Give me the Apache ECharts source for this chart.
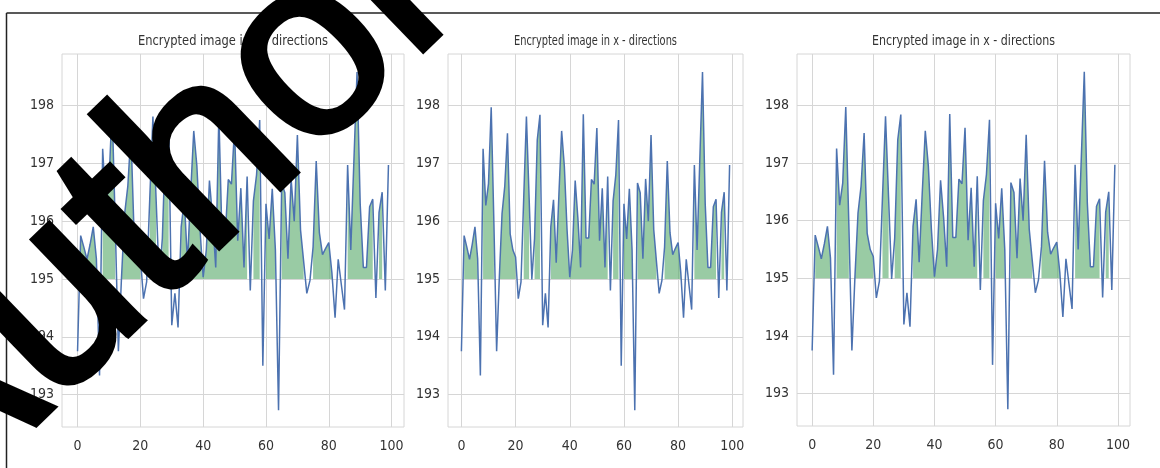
<!DOCTYPE html>
<html><head><meta charset="utf-8">
<script src="https://cdn.jsdelivr.net/npm/echarts@6/dist/echarts.min.js"></script>
<style>html,body{margin:0;padding:0;background:#fff}#c{width:1160px;height:468px}</style>
</head><body><div id="c"></div>
<script>
// ---- data ----
const yValues = [
 193.75,195.75,195.55,195.34,195.60,195.90,195.35,193.33,197.25,196.27,
 196.65,197.97,195.95,193.75,195.03,196.13,196.60,197.52,195.78,195.50,
 195.38,194.66,194.95,196.40,197.81,196.40,194.99,195.70,197.40,197.84,
 194.20,194.75,194.16,195.90,196.37,195.28,196.47,197.56,196.95,195.85,
 195.03,195.50,196.70,196.05,195.20,197.85,195.71,195.71,196.72,196.64,
 197.61,195.66,196.57,195.20,196.77,194.80,196.35,196.80,197.75,193.50,
 196.30,195.69,196.56,195.50,192.73,196.66,196.49,195.35,196.73,196.00,
 197.49,195.85,195.30,194.75,194.97,195.55,197.04,195.80,195.42,195.53,
 195.63,195.10,194.33,195.34,194.90,194.47,196.97,195.50,197.05,198.58,
 196.30,195.20,195.20,196.25,196.38,194.67,196.15,196.50,194.80,196.97
];
const threshold = 195;
const xTicks = [0, 20, 40, 60, 80, 100];
const yTicks = [193, 194, 195, 196, 197, 198];
const titles = ['Encrypted image in x - directions','Encrypted image in x - directions','Encrypted image in x - directions'];
const watermarkText = 'Author';

// ---- layout ----
const panels = [
  {left:62,  top:54, width:342, height:373, titleW:190},
  {left:448, top:54, width:295, height:373, titleW:163},
  {left:797, top:54, width:333, height:372, titleW:183}
];
const FONT = "'Liberation Sans Narrow','DejaVu Sans Condensed','Liberation Sans',sans-serif";
const TITLE_FONT = "14px 'DejaVu Sans Condensed','DejaVu Sans',sans-serif";
const lineData = yValues.map((v,i)=>[i,v]);
const fillData = yValues.map((v,i)=>[i, v>threshold ? v : null]);

const mctx = document.createElement('canvas').getContext('2d');
mctx.font = TITLE_FONT;

const grid=[], xAxis=[], yAxis=[], series=[], graphic=[];
panels.forEach((p,k)=>{
  grid.push({left:p.left, top:p.top, width:p.width, height:p.height, show:true,
    borderColor:'#d6d6d6', borderWidth:1, backgroundColor:'#fff', containLabel:false});
  xAxis.push({type:'value', gridIndex:k, min:-4.95, max:103.95,
    axisLine:{show:false}, axisTick:{show:false, customValues:xTicks},
    axisLabel:{customValues:xTicks, color:'#333', fontSize:14, fontFamily:FONT, margin:12},
    splitLine:{show:true, lineStyle:{color:'#d6d6d6', width:1}}});
  yAxis.push({type:'value', gridIndex:k, min:192.44, max:198.89,
    axisLine:{show:false}, axisTick:{show:false, customValues:yTicks},
    axisLabel:{customValues:yTicks, color:'#333', fontSize:14, fontFamily:FONT, margin:8},
    splitLine:{show:true, lineStyle:{color:'#d6d6d6', width:1}}});
  series.push({type:'line', xAxisIndex:k, yAxisIndex:k, data:fillData, symbol:'none',
    connectNulls:false, lineStyle:{width:0, opacity:0},
    areaStyle:{color:'#55a868', opacity:0.6, origin:threshold}, z:2, silent:true});
  series.push({type:'line', xAxisIndex:k, yAxisIndex:k, data:lineData, symbol:'none',
    lineStyle:{color:'#4c72b0', width:1.5}, z:3, silent:true});
  const w = mctx.measureText(titles[k]).width;
  graphic.push({type:'text', x:p.left+p.width/2, y:41, scaleX:p.titleW/w, z:10,
    style:{text:titles[k], font:TITLE_FONT, fill:'#333', align:'center', verticalAlign:'middle'}});
});

// watermark placement (decorative): glyph-space anchor (em units) mapped to a screen point
const FS=255, TH=44*Math.PI/180;
const d=[Math.cos(TH),-Math.sin(TH)], u=[-Math.sin(TH),-Math.cos(TH)];
const anchorG=[2.335,0.26], anchorS=[326,77];
const P0=[anchorS[0]-FS*(anchorG[0]*d[0]+anchorG[1]*u[0]), anchorS[1]-FS*(anchorG[0]*d[1]+anchorG[1]*u[1])];
const M0=[P0[0]+0.3465*FS*u[0], P0[1]+0.3465*FS*u[1]];
graphic.push(
  {type:'line', shape:{x1:6.5,y1:13,x2:1160,y2:13}, style:{stroke:'#222',lineWidth:1.5}, z:50},
  {type:'line', shape:{x1:6.5,y1:13,x2:6.5,y2:468}, style:{stroke:'#222',lineWidth:1.5}, z:50},
  {type:'text', x:M0[0], y:M0[1], rotation:TH, z:100,
    style:{text:watermarkText, font:FS+"px 'Liberation Sans'", fill:'#000', stroke:'#000', lineWidth:6,
      lineJoin:'round', align:'left', verticalAlign:'middle'}}
);

const chart = echarts.init(document.getElementById('c'), null, {renderer:'canvas'});
chart.setOption({
  animation:false, backgroundColor:'#fff',
  grid, xAxis, yAxis, series, graphic
});
</script></body></html>
